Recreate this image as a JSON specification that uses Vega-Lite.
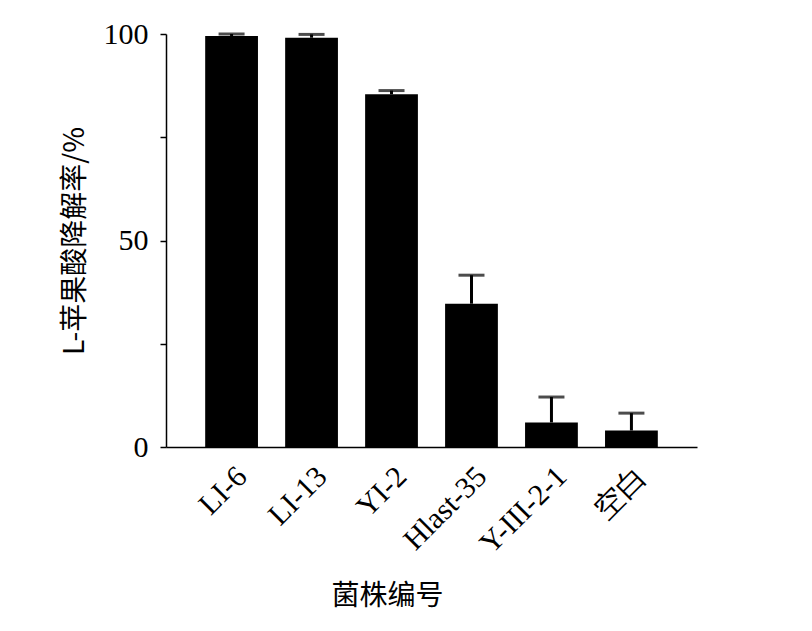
{
  "$schema": "https://vega.github.io/schema/vega-lite/v6.json",
  "width": 531,
  "height": 413,
  "autosize": "none",
  "padding": {"left": 166, "top": 34, "right": 115, "bottom": 184},
  "background": "white",
  "data": {
    "values": [
      {"strain": "LI-6", "rate": 99.5, "upper": 100.0},
      {"strain": "LI-13", "rate": 99.1, "upper": 99.9},
      {"strain": "YI-2", "rate": 85.4, "upper": 86.3},
      {"strain": "Hlast-35", "rate": 34.7, "upper": 41.6},
      {"strain": "Y-III-2-1", "rate": 5.95, "upper": 12.1},
      {"strain": "空白", "rate": 4.0, "upper": 8.2}
    ]
  },
  "encoding": {
    "x": {
      "field": "strain",
      "type": "nominal",
      "sort": null,
      "scale": {"paddingInner": 0.34, "paddingOuter": 0.49},
      "axis": {
        "title": "菌株编号",
        "titleFont": "Noto Sans CJK SC",
        "titleFontWeight": "normal",
        "titleFontSize": 28,
        "titleColor": "black",
        "titleX": 221,
        "titlePadding": 24,
        "labelAngle": -45,
        "labelFont": "Liberation Serif",
        "labelFontSize": 30,
        "labelColor": "black",
        "labelPadding": 14,
        "ticks": false,
        "domainColor": "black",
        "domainWidth": 1.5
      }
    }
  },
  "layer": [
    {
      "mark": {"type": "bar", "color": "black"},
      "encoding": {
        "y": {
          "field": "rate",
          "type": "quantitative",
          "scale": {"domain": [0, 100], "nice": false},
          "axis": {
            "title": "L-苹果酸降解率/%",
            "titleFont": "Noto Sans CJK SC",
            "titleFontWeight": "normal",
            "titleFontSize": 28,
            "titleColor": "black",
            "titlePadding": 14,
            "values": [0, 25, 50, 75, 100],
            "labelExpr": "datum.value % 50 === 0 ? datum.label : ''",
            "labelFont": "Liberation Serif",
            "labelFontSize": 30,
            "labelColor": "black",
            "labelPadding": 12,
            "tickSize": 6,
            "tickColor": "black",
            "tickWidth": 1.5,
            "domainColor": "black",
            "domainWidth": 1.5,
            "grid": false
          }
        }
      }
    },
    {
      "mark": {"type": "rule", "color": "black", "strokeWidth": 3},
      "encoding": {
        "y": {"field": "rate", "type": "quantitative"},
        "y2": {"field": "upper"}
      }
    },
    {
      "mark": {"type": "tick", "color": "black", "thickness": 3, "size": 26},
      "encoding": {
        "y": {"field": "upper", "type": "quantitative"}
      }
    }
  ],
  "config": {
    "view": {"stroke": null}
  }
}
